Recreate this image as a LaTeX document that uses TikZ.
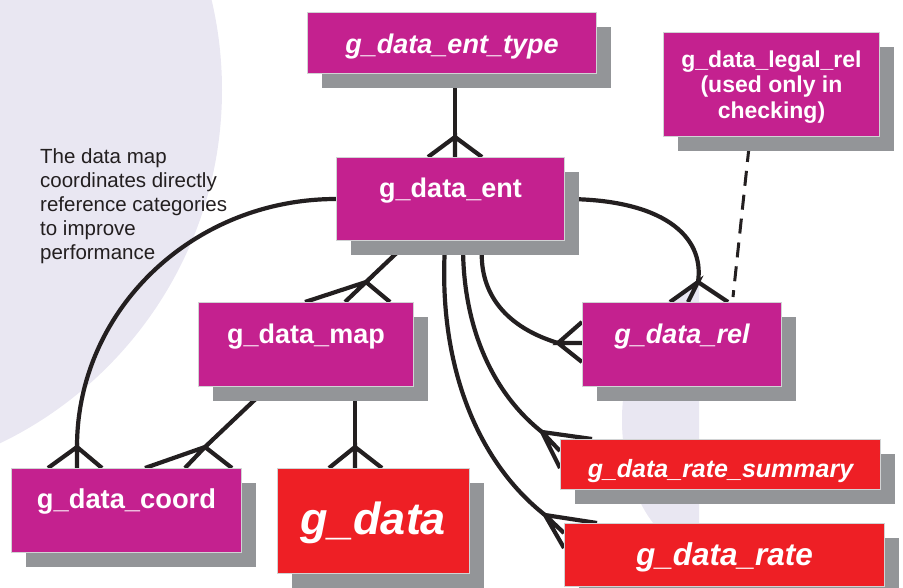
\documentclass[tikz,border=0pt]{standalone}
\usepackage{fontspec}
\setmainfont{Liberation Sans}
\usetikzlibrary{calc,shadows}
\definecolor{magc}{HTML}{C4218F}
\definecolor{redc}{HTML}{EE1F25}
\definecolor{shadowc}{HTML}{939598}
\definecolor{edgec}{HTML}{D1D3D4}
\definecolor{linec}{HTML}{231F20}
\definecolor{lavc}{HTML}{E9E7F2}
\pgfdeclarelayer{bg}
\pgfdeclarelayer{lines}
\pgfsetlayers{bg,lines,main}
% crow's foot: fork point, then the three prong ends
\newcommand\crowfoot[4]{\draw[link] (#2) -- (#1) -- (#3) (#1) -- (#4);}
\begin{document}
\begin{tikzpicture}[x=1pt,y=-1pt,
  ebox/.style={draw=edgec, line width=1pt, inner sep=0pt, anchor=north west,
    general shadow={fill=shadowc, shadow xshift=14pt, shadow yshift=-14pt}},
  magbox/.style={ebox, fill=magc},
  redbox/.style={ebox, fill=redc},
  lbl/.style={text=white, anchor=base, inner sep=0pt},
  link/.style={draw=linec, line width=4.2pt},
]
\useasboundingbox (0,0) rectangle (903,587);

% tables
\node[magbox, minimum width=289pt, minimum height=61pt] (type) at (307,12) {};
\node[lbl, font=\bfseries\itshape\fontsize{27}{30}\selectfont] at ([yshift=-41pt]type.north) {g\_data\_ent\_type};

\node[magbox, minimum width=216pt, minimum height=104pt] (legal) at (663,32) {};
\node[lbl, anchor=north, align=center, font=\bfseries\fontsize{23}{25.5}\selectfont] at ([yshift=-18.5pt]legal.north) {g\_data\_legal\_rel\\(used only in\\checking)};

\node[magbox, minimum width=228pt, minimum height=83pt] (ent) at (336,157) {};
\node[lbl, font=\bfseries\fontsize{27}{30}\selectfont] at ([yshift=-40pt]ent.north) {g\_data\_ent};

\node[magbox, minimum width=215pt, minimum height=84pt] (map) at (198,302) {};
\node[lbl, font=\bfseries\fontsize{27}{30}\selectfont] at ([yshift=-41pt]map.north) {g\_data\_map};

\node[magbox, minimum width=199pt, minimum height=84pt] (rel) at (582,302) {};
\node[lbl, font=\bfseries\itshape\fontsize{27}{30}\selectfont] at ([yshift=-41pt]rel.north) {g\_data\_rel};

\node[magbox, minimum width=230pt, minimum height=84pt] (coord) at (11,468) {};
\node[lbl, font=\bfseries\fontsize{27.3}{30}\selectfont] at ([yshift=-40pt]coord.north) {g\_data\_coord};

\node[redbox, minimum width=192pt, minimum height=105pt] (gdata) at (277,468) {};
\node[lbl, font=\bfseries\itshape\fontsize{45}{48}\selectfont] at ([yshift=-66pt]gdata.north) {g\_data};

\node[redbox, minimum width=320pt, minimum height=50pt] (summary) at (560,439) {};
\node[lbl, font=\bfseries\itshape\fontsize{25}{28}\selectfont] at ([yshift=-38pt]summary.north) {g\_data\_rate\_summary};

\node[redbox, minimum width=320pt, minimum height=63pt] (rate) at (564,523) {};
\node[lbl, font=\bfseries\itshape\fontsize{31.5}{34}\selectfont] at ([yshift=-42pt]rate.north) {g\_data\_rate};

% note
\node[anchor=north west, inner sep=0pt, align=left, text=linec,
      font=\fontsize{20.5}{24}\selectfont] (note) at (40,148.5)
  {The data map\\coordinates directly\\reference categories\\to improve\\performance};

% background tints
\begin{pgfonlayer}{bg}
  \fill[lavc] (-170,90) circle[radius=392pt];
  \begin{scope}
    \clip (600,250) rectangle (699,587);
    \fill[lavc] (710,420) ellipse[x radius=88pt, y radius=135pt];
  \end{scope}
\end{pgfonlayer}

% relationships
\begin{pgfonlayer}{lines}
  % g_data_ent_type -> g_data_ent
  \coordinate (f1) at ($(ent.north west)+(119,-20)$);
  \draw[link] ($(type.south west)+(148,0)$) -- (f1);
  \crowfoot{f1}{$(ent.north west)+(92,0)$}{$(ent.north west)+(119,0)$}{$(ent.north west)+(146,0)$}

  % g_data_ent -> g_data_map
  \coordinate (f2) at ($(map.north west)+(168,-20)$);
  \draw[link] ($(ent.south west)+(68,5)$) -- (f2);
  \crowfoot{f2}{$(map.north west)+(107,0)$}{$(map.north west)+(147,0)$}{$(map.north west)+(192,0)$}

  % g_data_ent -> g_data_coord
  \coordinate (f3) at ($(coord.north west)+(66,-21)$);
  \draw[link] (ent.west) .. controls +(-143,0) and +(0,-137) .. (f3);
  \crowfoot{f3}{$(coord.north west)+(37,0)$}{$(coord.north west)+(66,0)$}{$(coord.north west)+(91,0)$}

  % g_data_map -> g_data_coord
  \coordinate (f4) at ($(coord.north west)+(194,-21)$);
  \draw[link] ($(map.south west)+(65,5)$) -- (f4);
  \crowfoot{f4}{$(coord.north west)+(134,0)$}{$(coord.north west)+(174,0)$}{$(coord.north west)+(221,0)$}

  % g_data_map -> g_data
  \coordinate (f5) at ($(gdata.north west)+(78,-21)$);
  \draw[link] ($(map.south west)+(157,5)$) -- (f5);
  \crowfoot{f5}{$(gdata.north west)+(52,0)$}{$(gdata.north west)+(78,0)$}{$(gdata.north west)+(105,0)$}

  % g_data_ent -> g_data_rel (two roles)
  \coordinate (f6) at ($(rel.north west)+(116,-20)$);
  \draw[link] (ent.east) .. controls +(96,0) and +(7,-47) .. (f6);
  \crowfoot{f6}{$(rel.north west)+(88,0)$}{$(rel.north west)+(106,0)$}{$(rel.north west)+(146,0)$}

  \coordinate (f7) at ($(rel.north west)+(-24,41)$);
  \draw[link] ($(ent.south west)+(146,5)$) .. controls +(-4,55) and +(-43,-13) .. (f7);
  \crowfoot{f7}{$(rel.north west)+(0,20)$}{$(rel.north west)+(0,41)$}{$(rel.north west)+(0,60)$}

  % g_data_ent -> g_data_rate_summary
  \coordinate (f8) at ($(summary.north west)+(-18,-7)$);
  \draw[link] ($(ent.south west)+(127,5)$) .. controls +(0,85) and +(-47,-37) .. (f8);
  \crowfoot{f8}{$(summary.north west)+(32,0)$}{$(summary.north west)+(0,12)$}{$(summary.north west)+(0,29)$}

  % g_data_ent -> g_data_rate
  \coordinate (f9) at ($(rate.north west)+(-19,-8)$);
  \draw[link] ($(ent.south west)+(109,5)$) .. controls +(-7,115) and +(-70,-55) .. (f9);
  \crowfoot{f9}{$(rate.north west)+(33,0)$}{$(rate.north west)+(0,10)$}{$(rate.north west)+(0,25)$}

  % g_data_legal_rel checks g_data_rel
  \draw[linec, line width=3pt, dash pattern=on 15pt off 9pt]
    ($(legal.south west)+(86,10)$) -- ($(rel.north west)+(151,-5)$);
\end{pgfonlayer}
\end{tikzpicture}
\end{document}
